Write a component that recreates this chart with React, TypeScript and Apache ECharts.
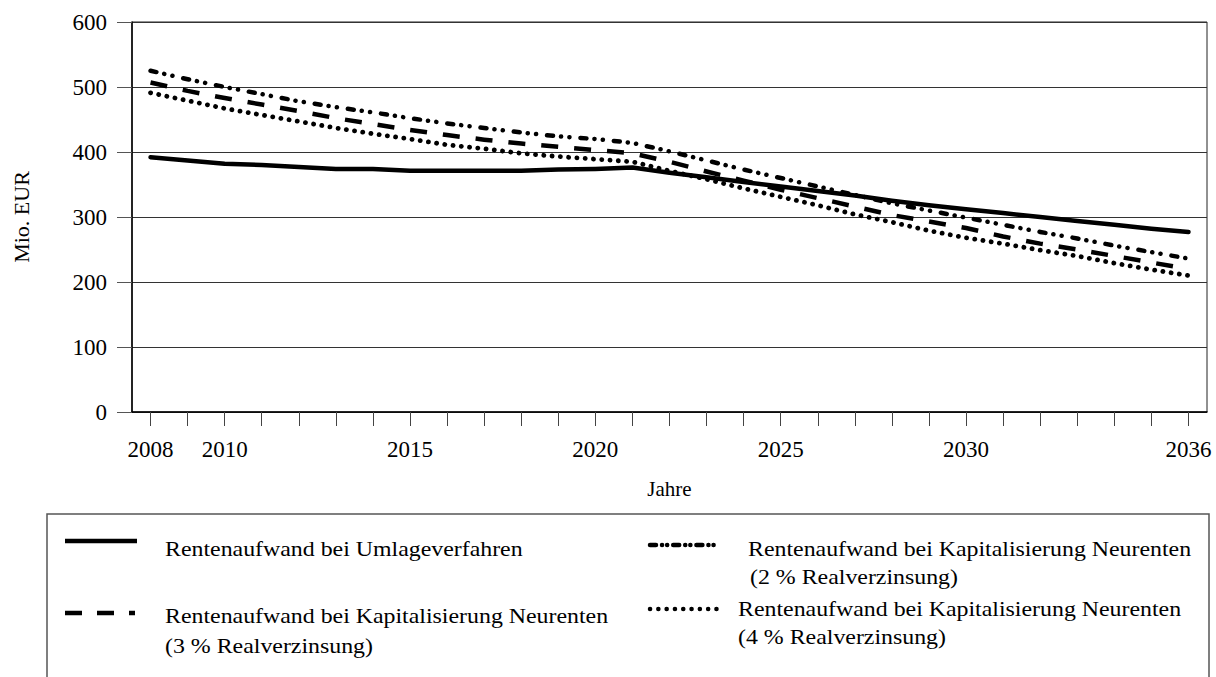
import React, { useEffect, useRef } from "react";
import * as echarts from "echarts";

const years = [
  "2008", "2009", "2010", "2011", "2012", "2013", "2014", "2015", "2016", "2017",
  "2018", "2019", "2020", "2021", "2022", "2023", "2024", "2025", "2026", "2027",
  "2028", "2029", "2030", "2031", "2032", "2033", "2034", "2035", "2036",
];
const labelYears = ["2008", "2010", "2015", "2020", "2025", "2030", "2036"];

const umlage = [
  392, 387, 382, 380, 377, 374, 374, 371, 371, 371,
  371, 373, 374, 376, 368, 361, 354, 347, 340, 333,
  325, 318, 312, 306, 300, 294, 288, 282, 277,
];
const kap2 = [
  525, 512, 500, 489, 478, 469, 461, 452, 444, 437,
  430, 424, 420, 414, 401, 387, 373, 360, 347, 334,
  321, 310, 299, 288, 277, 267, 256, 246, 236,
];
const kap3 = [
  507, 494, 483, 473, 463, 452, 443, 434, 426, 419,
  413, 408, 403, 398, 385, 370, 356, 342, 329, 316,
  303, 293, 283, 270, 259, 250, 240, 230, 220,
];
const kap4 = [
  491, 479, 467, 457, 447, 437, 428, 420, 411, 405,
  398, 393, 389, 385, 371, 358, 344, 331, 318, 304,
  292, 279, 268, 259, 249, 240, 229, 219, 210,
];

const nameUmlage = "Rentenaufwand bei Umlageverfahren";
const nameKap = "Rentenaufwand bei Kapitalisierung Neurenten";
const sub2 = "(2 % Realverzinsung)";
const sub3 = "(3 % Realverzinsung)";
const sub4 = "(4 % Realverzinsung)";

const FONT = "'Liberation Serif', 'Times New Roman', serif";

const DASH_3 = [17, 16];
const DASH_2 = [6, 8, 0.1, 8.3, 0.1, 11];
const DASH_4 = [0.1, 8.2];

export default function App() {
  const ref = useRef<HTMLDivElement>(null);
  useEffect(() => {
    const chart = echarts.init(ref.current!, null, { renderer: "svg" });
    const legendText = (text: string, x: number, y: number) => ({
      type: "text",
      x,
      y,
      scaleX: 1.085,
      silent: true,
      style: {
        text,
        fontFamily: FONT,
        fontSize: 22,
        fill: "#000",
        align: "left",
        verticalAlign: "middle",
      },
    });
    const legendLine = (x1: number, x2: number, y: number, dash: any, cap: string) => ({
      type: "line",
      silent: true,
      shape: { x1, y1: y, x2, y2: y },
      style: {
        stroke: "#000",
        lineWidth: 4.5,
        lineDash: dash === "solid" ? null : dash,
        lineCap: cap,
      },
    });
    chart.setOption({
      animation: false,
      backgroundColor: "#fff",
      grid: {
        left: 132,
        top: 22,
        width: 1075,
        height: 390,
        show: true,
        borderColor: "#222",
        borderWidth: 1,
        containLabel: false,
      },
      xAxis: {
        type: "category",
        data: years,
        boundaryGap: true,
        axisLine: { show: true, lineStyle: { color: "#000", width: 1.5 } },
        axisTick: {
          show: true,
          alignWithLabel: true,
          interval: 0,
          length: 14,
          lineStyle: { color: "#444", width: 1 },
        },
        axisLabel: {
          interval: (_i: number, v: string) => labelYears.includes(v),
          fontFamily: FONT,
          fontSize: 23,
          color: "#000",
          margin: 26,
        },
        splitLine: { show: false },
        name: "Jahre",
        nameLocation: "middle",
        nameGap: 66,
        nameTextStyle: { fontFamily: FONT, fontSize: 21, color: "#000" },
      },
      yAxis: {
        type: "value",
        min: 0,
        max: 600,
        interval: 100,
        axisLine: { show: true, lineStyle: { color: "#000", width: 1.5 } },
        axisTick: { show: true, length: 15, lineStyle: { color: "#555", width: 1 } },
        axisLabel: {
          fontFamily: FONT,
          fontSize: 23,
          color: "#000",
          margin: 25,
        },
        splitLine: { show: true, lineStyle: { color: "#333", width: 1 } },
        name: "Mio. EUR",
        nameLocation: "middle",
        nameRotate: 90,
        nameGap: 100,
        nameTextStyle: { fontFamily: FONT, fontSize: 22, color: "#000" },
      },
      series: [
        {
          name: nameKap + " " + sub4,
          type: "line",
          data: kap4,
          symbol: "none",
          z: 2,
          lineStyle: { color: "#000", width: 4.8, type: DASH_4, cap: "round", join: "round" },
        },
        {
          name: nameKap + " " + sub3,
          type: "line",
          data: kap3,
          symbol: "none",
          z: 3,
          lineStyle: { color: "#000", width: 4.5, type: DASH_3, cap: "butt", join: "round" },
        },
        {
          name: nameKap + " " + sub2,
          type: "line",
          data: kap2,
          symbol: "none",
          z: 4,
          lineStyle: { color: "#000", width: 4.5, type: DASH_2, cap: "round", join: "round" },
        },
        {
          name: nameUmlage,
          type: "line",
          data: umlage,
          symbol: "none",
          z: 5,
          lineStyle: { color: "#000", width: 4.5, type: "solid", cap: "round", join: "round" },
        },
      ],
      graphic: [
        {
          type: "rect",
          silent: true,
          shape: { x: 47, y: 514, width: 1162, height: 220 },
          style: { fill: "none", stroke: "#555", lineWidth: 1.5 },
        },
        legendLine(65, 137, 541, "solid", "butt"),
        legendText(nameUmlage, 165, 549),
        legendLine(65, 135, 613, [17, 15], "butt"),
        legendText(nameKap, 165, 616),
        legendText(sub3, 165, 646),
        legendLine(650, 718, 545, [6, 6, 0.1, 5, 0.1, 6], "round"),
        legendText(nameKap, 748, 549),
        legendText(sub2, 750, 577),
        legendLine(650, 718, 609, [0.1, 8.2], "round"),
        legendText(nameKap, 738, 609),
        legendText(sub4, 738, 637),
      ],
    });
    return () => chart.dispose();
  }, []);
  return (
    <div
      ref={ref}
      style={{ position: "fixed", left: 0, top: 0, width: 1216, height: 677, background: "#fff" }}
    />
  );
}
